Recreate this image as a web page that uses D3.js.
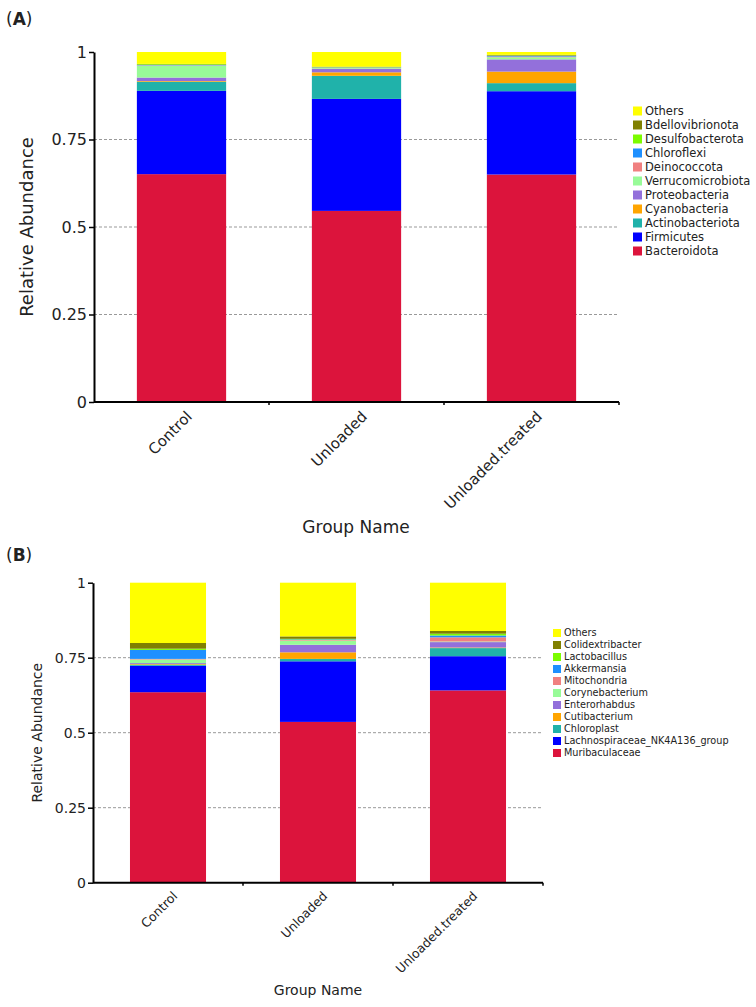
<!DOCTYPE html>
<html>
<head>
<meta charset="utf-8">
<script src="https://cdn.jsdelivr.net/npm/d3@7"></script>
<style>
  html, body { margin: 0; padding: 0; background: #fff; }
  svg { display: block; }
  text { font-family: "DejaVu Sans", Verdana, sans-serif; fill: #222; }
</style>
</head>
<body>
<svg id="chart" width="756" height="1007"></svg>
<script>
// ---------- DATA ----------
const groups = ["Control", "Unloaded", "Unloaded.treated"];
const yTickValues = [0, 0.25, 0.5, 0.75, 1];
const yTickLabels = ["0", "0.25", "0.5", "0.75", "1"];

// Panel A (phylum), bottom -> top stacking order
const phylaA = ["Bacteroidota", "Firmicutes", "Actinobacteriota", "Cyanobacteria", "Proteobacteria",
  "Verrucomicrobiota", "Deinococcota", "Chloroflexi", "Desulfobacterota", "Bdellovibrionota", "Others"];
const Bacteroidota      = [0.651, 0.546, 0.650];
const Firmicutes        = [0.238, 0.320, 0.238];
const Actinobacteriota  = [0.026, 0.066, 0.023];
const Cyanobacteria     = [0.002, 0.010, 0.033];
const Proteobacteria    = [0.010, 0.010, 0.035];
const Verrucomicrobiota = [0.034, 0.002, 0.006];
const Deinococcota      = [0.001, 0.001, 0.002];
const Chloroflexi       = [0.001, 0.001, 0.002];
const Desulfobacterota  = [0.002, 0.001, 0.001];
const Bdellovibrionota  = [0.001, 0.001, 0.002];
const OthersA           = [0.034, 0.042, 0.008];

// Panel B (genus), bottom -> top stacking order
const generaB = ["Muribaculaceae", "Lachnospiraceae_NK4A136_group", "Chloroplast", "Cutibacterium",
  "Enterorhabdus", "Corynebacterium", "Mitochondria", "Akkermansia", "Lactobacillus", "Colidextribacter", "Others"];
const Muribaculaceae   = [0.635, 0.536, 0.641];
const Lachnospiraceae  = [0.088, 0.202, 0.114];
const Chloroplast      = [0.004, 0.008, 0.027];
const Cutibacterium    = [0.002, 0.022, 0.002];
const Enterorhabdus    = [0.003, 0.025, 0.018];
const Corynebacterium  = [0.012, 0.014, 0.002];
const Mitochondria     = [0.002, 0.002, 0.014];
const Akkermansia      = [0.030, 0.002, 0.006];
const Lactobacillus    = [0.004, 0.002, 0.006];
const Colidextribacter = [0.019, 0.008, 0.009];
const OthersB          = [0.201, 0.179, 0.161];

const palette = ["#DC143C", "#0000FF", "#20B2AA", "#FFA500", "#9370DB", "#98FB98",
  "#F08080", "#1E90FF", "#7CFC00", "#808000", "#FFFF00"];

const seriesA = [Bacteroidota, Firmicutes, Actinobacteriota, Cyanobacteria, Proteobacteria,
  Verrucomicrobiota, Deinococcota, Chloroflexi, Desulfobacterota, Bdellovibrionota, OthersA];
const seriesB = [Muribaculaceae, Lachnospiraceae, Chloroplast, Cutibacterium, Enterorhabdus,
  Corynebacterium, Mitochondria, Akkermansia, Lactobacillus, Colidextribacter, OthersB];

// ---------- DRAW ----------
const svg = d3.select("#chart");

function buildRows(keys, series) {
  return groups.map((g, i) => {
    const row = { group: g };
    keys.forEach((k, j) => row[k] = series[j][i]);
    return row;
  });
}

function drawPanel(cfg) {
  const { keys, series, left, right, top, bottom } = cfg;
  const rows = buildRows(keys, series);
  const stack = d3.stack().keys(keys)(rows);
  const color = d3.scaleOrdinal().domain(keys).range(palette);

  const x = d3.scaleBand().domain(groups).range([left, right])
    .paddingInner(cfg.pad).paddingOuter(cfg.pad / 2);
  const y = d3.scaleLinear().domain([0, 1]).range([bottom, top]);

  const g = svg.append("g");

  // gridlines
  g.append("g").selectAll("line")
    .data(yTickValues.filter(v => v > 0 && v < 1))
    .join("line")
    .attr("x1", left).attr("x2", right)
    .attr("y1", d => y(d)).attr("y2", d => y(d))
    .attr("stroke", "#999").attr("stroke-width", 1)
    .attr("stroke-dasharray", "3,2");

  // bars
  g.append("g").selectAll("g")
    .data(stack).join("g")
    .attr("fill", d => color(d.key))
    .selectAll("rect")
    .data(d => d).join("rect")
    .attr("x", d => x(d.data.group))
    .attr("width", x.bandwidth())
    .attr("y", d => y(d[1]))
    .attr("height", d => Math.max(0, y(d[0]) - y(d[1])));

  // y axis
  const yAxis = d3.axisLeft(y).tickValues(yTickValues)
    .tickFormat((d, i) => yTickLabels[i]).tickSize(5).tickSizeOuter(0);
  const ya = g.append("g").attr("transform", `translate(${left},0)`).call(yAxis);
  ya.select(".domain").attr("stroke", "#000").attr("stroke-width", 2);
  ya.selectAll(".tick line").attr("stroke", "#000").attr("stroke-width", 1.5);
  ya.selectAll(".tick text").attr("font-size", cfg.tickFont)
    .attr("font-family", "'DejaVu Sans', Verdana, sans-serif").attr("fill", "#222").attr("x", -7);

  // x axis line with boundary ticks
  g.append("line").attr("x1", left).attr("x2", right)
    .attr("y1", bottom).attr("y2", bottom)
    .attr("stroke", "#000").attr("stroke-width", 2);
  const bounds = groups.slice(1).map(gr => x(gr) - x.step() * cfg.pad / 2).concat([right]);
  g.append("g").selectAll("line").data(bounds).join("line")
    .attr("x1", d => d).attr("x2", d => d)
    .attr("y1", bottom).attr("y2", bottom + 3)
    .attr("stroke", "#000").attr("stroke-width", 1.5);

  // x labels rotated
  g.append("g").selectAll("text").data(groups).join("text")
    .attr("transform", d => `translate(${x(d) + x.bandwidth() / 2 + 4},${bottom + 8}) rotate(-45)`)
    .attr("text-anchor", "end")
    .attr("dy", "0.7em")
    .attr("font-size", cfg.xFont)
    .text(d => d);

  // axis titles
  g.append("text")
    .attr("transform", `translate(${cfg.yTitleX},${(top + bottom) / 2}) rotate(-90)`)
    .attr("text-anchor", "middle").attr("font-size", cfg.yTitleFont)
    .text("Relative Abundance");
  g.append("text")
    .attr("x", cfg.xTitleX).attr("y", cfg.xTitleY)
    .attr("text-anchor", "middle").attr("font-size", cfg.titleFont)
    .text("Group Name");

  // legend (top -> bottom is reverse of stack order)
  const legKeys = keys.slice().reverse();
  const leg = g.append("g").attr("transform", `translate(${cfg.legX},${cfg.legY})`);
  const items = leg.selectAll("g").data(legKeys).join("g")
    .attr("transform", (d, i) => `translate(0,${i * cfg.legStep})`);
  items.append("rect")
    .attr("x", 0).attr("y", -cfg.legBox / 2)
    .attr("width", cfg.legBox).attr("height", cfg.legBox)
    .attr("fill", d => color(d));
  items.append("text")
    .attr("x", cfg.legBox + 3).attr("y", 0).attr("dy", "0.35em")
    .attr("font-size", cfg.legFont)
    .text(d => d);

  // panel label
  svg.append("text").attr("x", cfg.labelX).attr("y", cfg.labelY)
    .attr("font-family", "'Liberation Serif', 'Times New Roman', serif")
    .attr("font-size", 17).attr("fill", "#000")
    .html(`(<tspan font-weight="bold">${cfg.label}</tspan>)`);
}

drawPanel({
  keys: phylaA, series: seriesA,
  left: 94, right: 619, top: 52, bottom: 402, pad: 0.49,
  tickFont: 16, xFont: 15, titleFont: 17, yTitleFont: 18,
  yTitleX: 33, xTitleX: 356, xTitleY: 533,
  legX: 633, legY: 111, legStep: 14, legBox: 9, legFont: 11.5,
  label: "A", labelX: 6, labelY: 25
});

drawPanel({
  keys: generaB, series: seriesB,
  left: 93, right: 543, top: 582.7, bottom: 882.7, pad: 0.493,
  tickFont: 14, xFont: 12.5, titleFont: 14, yTitleFont: 14,
  yTitleX: 42, xTitleX: 318, xTitleY: 995,
  legX: 553, legY: 633, legStep: 12, legBox: 8, legFont: 9.7,
  label: "B", labelX: 6, labelY: 561
});
</script>
</body>
</html>
